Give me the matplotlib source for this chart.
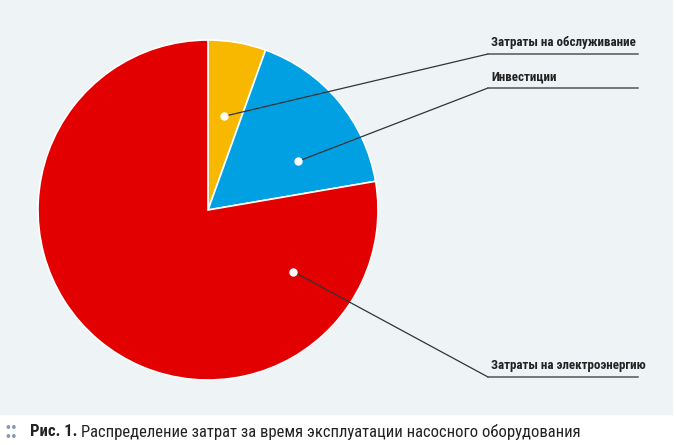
import numpy as np
import matplotlib
matplotlib.use("Agg")
from matplotlib import pyplot as plt
from matplotlib import font_manager

names = ["Затраты на обслуживание", "Инвестиции", "Затраты на электроэнергию"]
shares = [5.5, 16.8, 77.7]
colors = ["#f9b800", "#00a0e3", "#e30000"]
caption_bold = "Рис. 1."
caption_text = "Распределение затрат за время эксплуатации насосного оборудования"

installed = {f.name for f in font_manager.fontManager.ttflist}
cands = ["Roboto Condensed", "PT Sans Narrow", "Fira Sans Condensed",
         "Open Sans Condensed", "Archivo Narrow", "Roboto"]
narrow = next(c for c in cands if c in installed)
plt.rcParams['font.family'] = [narrow, 'DejaVu Sans']

W, H = 676, 445
fig = plt.figure(figsize=(W / 100, H / 100), dpi=100)
ax = fig.add_axes([0, 0, 1, 1])

cx, cy, R = 208, H - 210, 170
wedges, _ = ax.pie(shares, colors=colors, startangle=90, counterclock=False,
                   center=(cx, cy), radius=R, frame=True,
                   wedgeprops=dict(edgecolor="white", linewidth=1.2))
ax.set_xlim(0, W)
ax.set_ylim(0, H)
ax.set_aspect('equal')
ax.axis('off')

# panel background
ax.add_patch(plt.Rectangle((0, H - 414), 672, 414, color="#eef3f6", zorder=0))

# leader anchors: fraction along the wedge (clockwise), radius fraction
anchor = [(0.5, 0.56), (0.69, 0.60), (0.163, 0.62)]
label_y = [H - 54, H - 88, H - 377]
for w, (fr, rr), ly, name in zip(wedges, anchor, label_y, names):
    t = np.deg2rad(w.theta2 - fr * (w.theta2 - w.theta1))
    px, py = cx + rr * R * np.cos(t), cy + rr * R * np.sin(t)
    ax.plot([px, 488], [py, ly], color="#333333", lw=0.9, zorder=3)
    ax.plot([488, 638], [ly, ly], color="#555555", lw=1.1, zorder=3)
    ax.plot(px, py, 'o', ms=5, color="white", zorder=4)
    ax.text(491, ly + 5, name, fontsize=9.4, fontweight='bold', color="#222222",
            ha='left', va='bottom')

ax.text(4, H - 431, "::", fontsize=17, fontweight='bold', color="#8a9ab0", va='center')
t1 = ax.text(30, H - 432, caption_bold, fontsize=12, fontweight='bold',
             color="#222222", va='center')
fig.canvas.draw()
bb = t1.get_window_extent()
ax.text(bb.x1 + 4, H - 432, caption_text, fontsize=12, color="#222222", va='center')

fig.savefig("out.png", dpi=100)
